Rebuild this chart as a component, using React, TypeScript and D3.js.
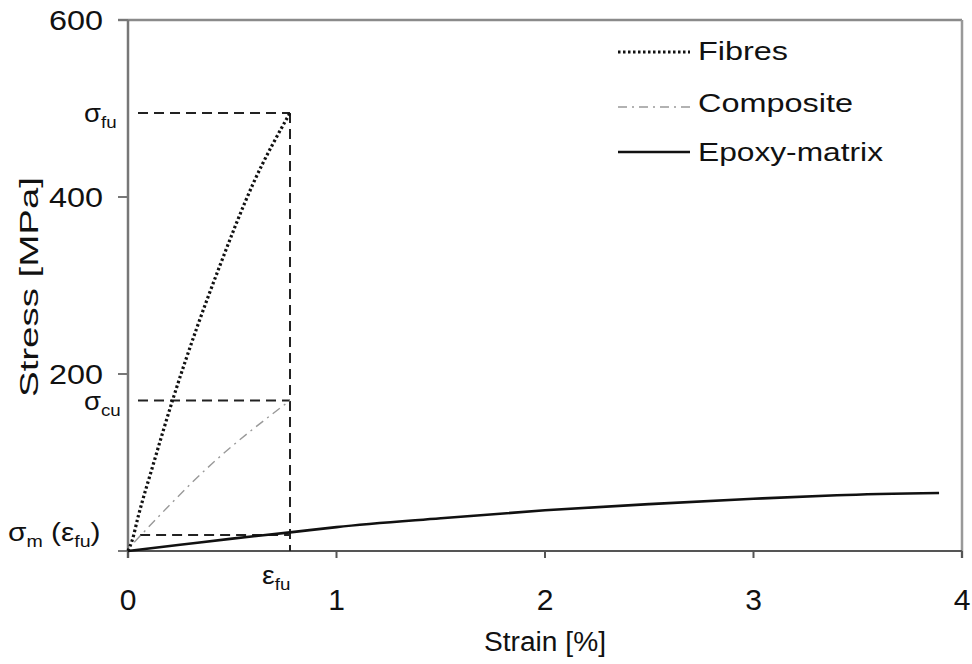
import React from "react";
import * as d3 from "d3";

const xTicks = [0, 1, 2, 3, 4];
const yTicks = [0, 200, 400, 600];
const yTickLabels = ["", "200", "400", "600"];
const epsFu = 0.777;
const sigmaFu = 495;
const sigmaCu = 170;
const sigmaM = 18;

const fibres: [number, number][] = [
  [0, 0], [0.02, 12], [0.05, 40], [0.12, 97], [0.22, 175], [0.33, 252], [0.44, 322], [0.6, 415], [0.777, 495],
];
const composite: [number, number][] = [
  [0.03, 10], [0.4, 98], [0.777, 170],
];
const epoxy: [number, number][] = [
  [0, 0], [0.25, 7], [0.5, 14], [0.777, 21], [1, 27], [1.5, 37], [2, 46], [2.5, 53], [3, 59], [3.4, 63], [3.89, 65.5],
];
const legendItems = ["Fibres", "Composite", "Epoxy-matrix"];

const FONT = "'Liberation Sans', Arial, Helvetica, sans-serif";

export default function App() {
  const W = 972, H = 664;
  const x = d3.scaleLinear().domain([0, 4]).range([128, 962]);
  const y = d3.scaleLinear().domain([0, 600]).range([551, 20]);
  const line = d3.line<[number, number]>().x(d => x(d[0])).y(d => y(d[1])).curve(d3.curveMonotoneX);
  const straight = d3.line<[number, number]>().x(d => x(d[0])).y(d => y(d[1]));

  const dashStyle = { stroke: "#222", strokeWidth: 2, strokeDasharray: "10 6", fill: "none" };
  const fibreStyle = { stroke: "#111", strokeWidth: 3.2, strokeDasharray: "2.5 2.5", fill: "none" };
  const compStyle = { stroke: "#999", strokeWidth: 1.4, strokeDasharray: "9 5 2 5", fill: "none" };
  const epoxyStyle = { stroke: "#111", strokeWidth: 2.6, fill: "none" };
  const legendStyles = [fibreStyle, compStyle, epoxyStyle];
  const legendY = [52, 107, 152];
  const legendBase = [60, 112, 161];
  const legendLen = [90, 155, 185];

  return (
    <svg width={W} height={H} style={{ position: "absolute", left: 0, top: 0, background: "#fff" }} fontFamily={FONT}>
      <rect x={0} y={0} width={W} height={H} fill="#fff" />
      {/* frame */}
      <line x1={118} x2={962} y1={y(600)} y2={y(600)} stroke="#8a8a8a" strokeWidth={2.5} />
      <line x1={x(4)} x2={x(4)} y1={y(600)} y2={y(0) + 7} stroke="#999" strokeWidth={2.5} />
      {/* axes */}
      <line x1={x(0)} x2={x(0)} y1={y(600)} y2={y(0) + 7} stroke="#777" strokeWidth={2.5} />
      <line x1={118} x2={x(4)} y1={y(0)} y2={y(0)} stroke="#555" strokeWidth={2} />
      {yTicks.map((t, i) => (
        <g key={"y" + t}>
          <line x1={118} x2={x(0)} y1={y(t)} y2={y(t)} stroke="#777" strokeWidth={2} />
          {yTickLabels[i] && (
            <text x={103} y={y(t) + 10} textAnchor="end" fontSize={28} fill="#111"
              textLength={yTickLabels[i].length * 18} lengthAdjust="spacingAndGlyphs">{yTickLabels[i]}</text>
          )}
        </g>
      ))}
      {xTicks.map(t => (
        <g key={"x" + t}>
          <line x1={x(t)} x2={x(t)} y1={y(0)} y2={y(0) + 7} stroke="#555" strokeWidth={2} />
          <text x={x(t)} y={610} textAnchor="middle" fontSize={30} fill="#111">{t}</text>
        </g>
      ))}
      {/* guide lines */}
      <path d={straight([[0.048, sigmaFu], [epsFu, sigmaFu]])!} style={dashStyle} />
      <path d={straight([[0.048, sigmaCu], [epsFu, sigmaCu]])!} style={dashStyle} />
      <path d={straight([[0.058, sigmaM], [epsFu, sigmaM]])!} style={dashStyle} />
      <path d={straight([[epsFu, sigmaFu], [epsFu, 0]])!} style={dashStyle} />
      {/* curves */}
      <path d={line(composite)!} style={compStyle} />
      <path d={line(fibres)!} style={fibreStyle} />
      <path d={line(epoxy)!} style={epoxyStyle} />
      {/* annotations */}
      <g transform={`translate(84,${y(sigmaFu) + 9}) scale(1.1,1)`}>
        <text x={0} y={0} fontSize={25} fill="#111">σ<tspan fontSize={17} dy={6}>fu</tspan></text>
      </g>
      <g transform={`translate(84,${y(sigmaCu) + 9}) scale(1.1,1)`}>
        <text x={0} y={0} fontSize={25} fill="#111">σ<tspan fontSize={17} dy={6}>cu</tspan></text>
      </g>
      <g transform={`translate(8,541) scale(1.15,1)`}>
        <text x={0} y={0} fontSize={26} fill="#111">σ<tspan fontSize={17} dy={6}>m</tspan><tspan dy={-6}> (ε</tspan><tspan fontSize={17} dy={6}>fu</tspan><tspan dy={-6}>)</tspan></text>
      </g>
      <g transform={`translate(262,584) scale(1.1,1)`}>
        <text x={0} y={0} fontSize={26} fill="#111">ε<tspan fontSize={17} dy={6}>fu</tspan></text>
      </g>
      {/* axis titles */}
      <text x={545} y={651} textAnchor="middle" fontSize={27} fill="#111"
        textLength={122} lengthAdjust="spacingAndGlyphs">Strain [%]</text>
      <text transform={`translate(38,287) rotate(-90)`} textAnchor="middle" fontSize={26} fill="#111"
        textLength={220} lengthAdjust="spacingAndGlyphs">Stress [MPa]</text>
      {/* legend */}
      {legendItems.map((name, i) => (
        <g key={name}>
          <line x1={618} x2={690} y1={legendY[i]} y2={legendY[i]} style={legendStyles[i]} />
          <text x={698} y={legendBase[i]} fontSize={26} fill="#111"
            textLength={legendLen[i]} lengthAdjust="spacingAndGlyphs">{name}</text>
        </g>
      ))}
    </svg>
  );
}
